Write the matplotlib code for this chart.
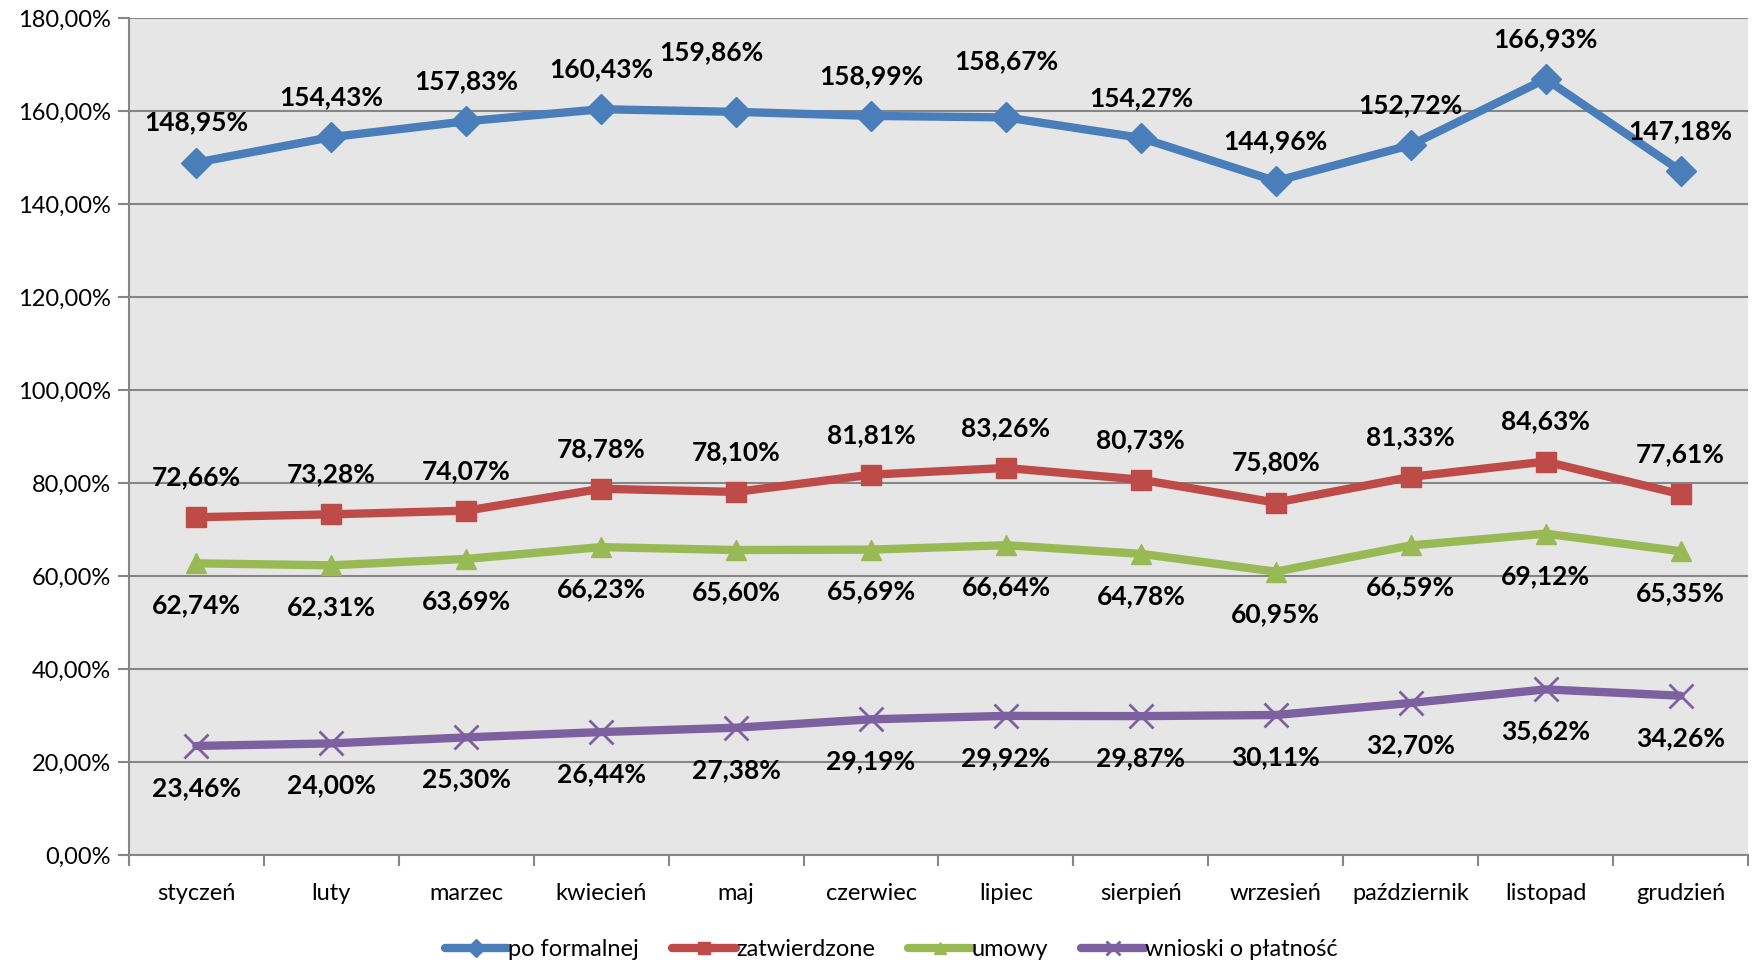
import matplotlib

matplotlib.use("Agg")
import matplotlib.pyplot as plt
from matplotlib.ticker import FixedLocator, FuncFormatter

months = ["styczeń", "luty", "marzec", "kwiecień", "maj", "czerwiec",
          "lipiec", "sierpień", "wrzesień", "październik", "listopad", "grudzień"]

po_formalnej = [148.95, 154.43, 157.83, 160.43, 159.86, 158.99,
                158.67, 154.27, 144.96, 152.72, 166.93, 147.18]
zatwierdzone = [72.66, 73.28, 74.07, 78.78, 78.10, 81.81,
                83.26, 80.73, 75.80, 81.33, 84.63, 77.61]
umowy = [62.74, 62.31, 63.69, 66.23, 65.60, 65.69,
         66.64, 64.78, 60.95, 66.59, 69.12, 65.35]
wnioski = [23.46, 24.00, 25.30, 26.44, 27.38, 29.19,
           29.92, 29.87, 30.11, 32.70, 35.62, 34.26]

FONT = ["Lato", "DejaVu Sans"]
plt.rcParams["font.family"] = FONT


def pct(v):
    return f"{v:.2f}".replace(".", ",") + "%"


series = [
    ("po formalnej", po_formalnej, "#4A7EBB", "D", 15, "above"),
    ("zatwierdzone", zatwierdzone, "#BE4B48", "s", 15, "above"),
    ("umowy", umowy, "#98B954", "^", 15, "below"),
    ("wnioski o płatność", wnioski, "#7D60A0", "x", 17, "below"),
]

fig = plt.figure(figsize=(17.54, 9.6), dpi=100)
ax = fig.add_axes([0.0735, 0.1094, 0.9231, 0.8716])
ax.set_facecolor("#E6E6E6")

x = list(range(len(months)))
for name, vals, color, marker, ms, pos in series:
    ax.plot(x, vals, color=color, lw=6, marker=marker, ms=ms,
            mew=2 if marker == "x" else 1, mec=color, mfc=color,
            label=name, solid_capstyle="round", zorder=3)
    for i, v in enumerate(vals):
        dx, dy = 0, (40 if pos == "above" else -42)
        if name == "po formalnej" and i == 4:
            dx, dy = -25, 60
        if name == "po formalnej" and i == 6:
            dy = 56
        ax.annotate(pct(v), (i, v), xytext=(dx, dy), textcoords="offset pixels",
                    ha="center", va="center", fontsize=19, fontweight="bold",
                    color="black", zorder=4)

ax.set_xlim(-0.5, len(months) - 0.5)
ax.set_ylim(0, 180)
ax.set_xticks(x)
ax.set_xticklabels(months, fontsize=17)
ax.xaxis.set_minor_locator(FixedLocator([i - 0.5 for i in range(len(months) + 1)]))
ax.tick_params(axis="x", which="major", length=0, pad=20)
ax.tick_params(axis="x", which="minor", length=8, color="#868686", width=1.5)
ax.set_yticks(range(0, 181, 20))
ax.yaxis.set_major_formatter(FuncFormatter(lambda v, _: pct(v)))
ax.tick_params(axis="y", length=8, color="#868686", width=1.5, labelsize=17, pad=5)
ax.grid(axis="y", color="#868686", lw=1.5, zorder=1)
ax.set_axisbelow(True)
for side in ["top", "right"]:
    ax.spines[side].set_visible(False)
for side in ["left", "bottom"]:
    ax.spines[side].set_color("#868686")
    ax.spines[side].set_linewidth(1.5)

fig.legend(loc="lower center", bbox_to_anchor=(0.508, -0.022), ncol=4, frameon=False,
           fontsize=17, handlelength=2.7, handletextpad=0.0, columnspacing=1.4,
           markerscale=0.6)

fig.savefig("out.png", dpi=100)
